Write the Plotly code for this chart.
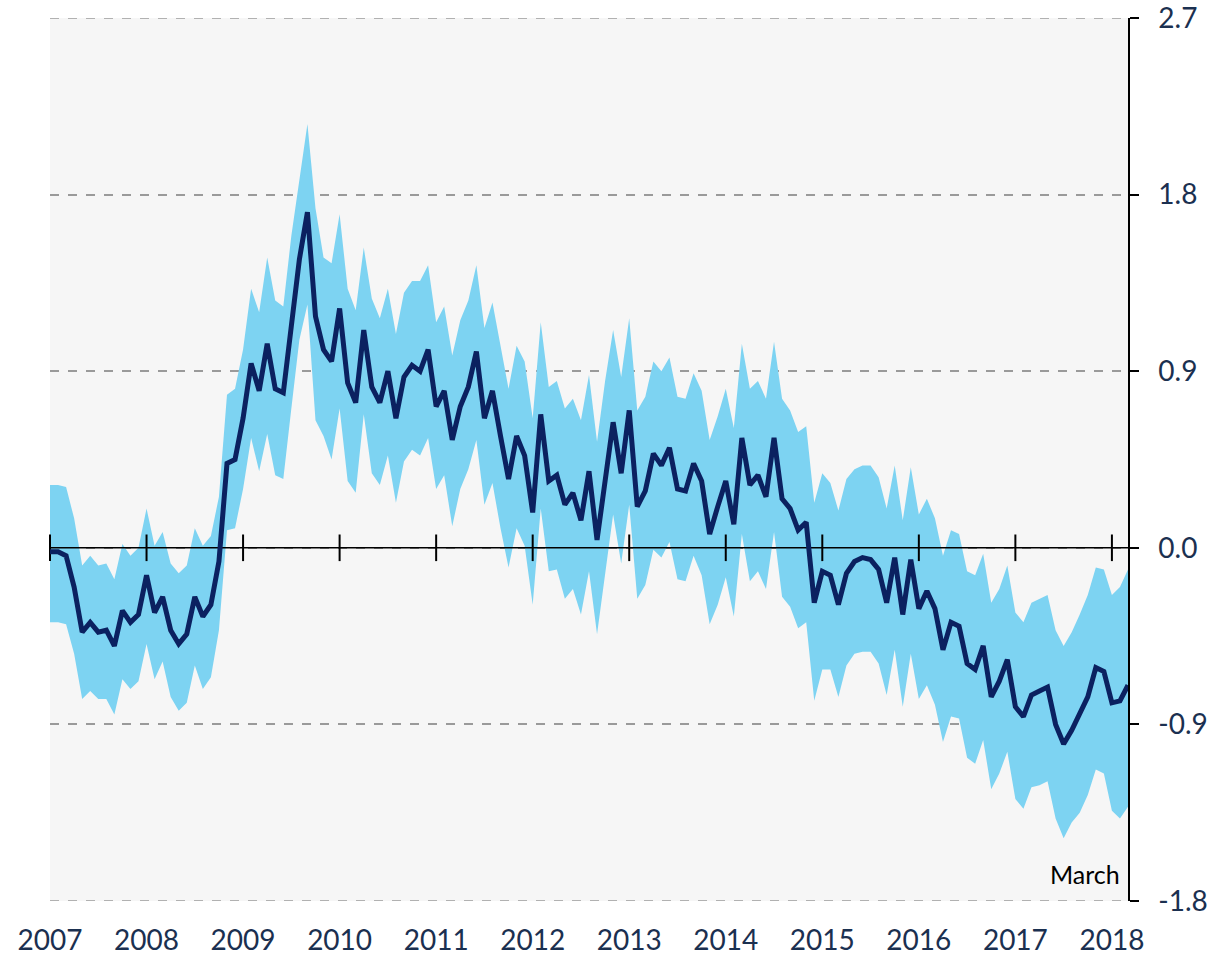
import plotly.graph_objects as go
import pandas as pd

# Monthly observations, Jan 2007 .. Mar 2018
months = pd.date_range("2007-01-01", "2018-03-01", freq="MS")

central = [
    -0.02, -0.02, -0.04, -0.20, -0.43, -0.38, -0.43, -0.42, -0.50, -0.32, -0.38, -0.34,
    -0.14, -0.33, -0.25, -0.42, -0.49, -0.44, -0.25, -0.35, -0.29, -0.07, 0.43, 0.45,
    0.66, 0.94, 0.80, 1.04, 0.81, 0.79, 1.13, 1.47, 1.71, 1.18, 1.01, 0.95,
    1.22, 0.84, 0.74, 1.11, 0.82, 0.74, 0.90, 0.66, 0.87, 0.93, 0.90, 1.01,
    0.72, 0.80, 0.55, 0.72, 0.82, 1.00, 0.66, 0.80, 0.57, 0.35, 0.57, 0.47,
    0.18, 0.68, 0.34, 0.37, 0.22, 0.28, 0.14, 0.39, 0.04, 0.33, 0.64, 0.38,
    0.70, 0.21, 0.29, 0.48, 0.42, 0.51, 0.30, 0.29, 0.43, 0.34, 0.07, 0.21,
    0.34, 0.12, 0.56, 0.32, 0.37, 0.26, 0.56, 0.25, 0.20, 0.09, 0.13, -0.28,
    -0.12, -0.14, -0.29, -0.13, -0.07, -0.05, -0.06, -0.11, -0.28, -0.05, -0.34, -0.06,
    -0.31, -0.22, -0.31, -0.52, -0.38, -0.40, -0.59, -0.62, -0.50, -0.76, -0.68, -0.57,
    -0.81, -0.86, -0.75, -0.73, -0.71, -0.90, -1.00, -0.93, -0.85, -0.76, -0.61, -0.63,
    -0.79, -0.78, -0.70,
]

upper = [
    0.32, 0.32, 0.31, 0.15, -0.09, -0.04, -0.09, -0.08, -0.16, 0.02, -0.04, 0.00,
    0.20, 0.01, 0.08, -0.08, -0.13, -0.09, 0.10, 0.01, 0.06, 0.26, 0.78, 0.81,
    1.01, 1.32, 1.20, 1.48, 1.26, 1.23, 1.59, 1.88, 2.16, 1.73, 1.48, 1.45,
    1.70, 1.32, 1.21, 1.53, 1.27, 1.17, 1.32, 1.09, 1.30, 1.36, 1.36, 1.44,
    1.15, 1.23, 0.98, 1.16, 1.26, 1.44, 1.12, 1.25, 1.03, 0.81, 1.03, 0.95,
    0.66, 1.15, 0.82, 0.85, 0.71, 0.76, 0.65, 0.88, 0.54, 0.85, 1.11, 0.87,
    1.17, 0.70, 0.77, 0.95, 0.90, 0.97, 0.77, 0.76, 0.89, 0.80, 0.55, 0.67,
    0.81, 0.61, 1.04, 0.81, 0.85, 0.76, 1.05, 0.76, 0.70, 0.59, 0.62, 0.23,
    0.38, 0.33, 0.19, 0.35, 0.40, 0.42, 0.42, 0.36, 0.20, 0.42, 0.14, 0.41,
    0.17, 0.25, 0.15, -0.04, 0.09, 0.07, -0.12, -0.14, -0.03, -0.28, -0.21, -0.09,
    -0.33, -0.38, -0.28, -0.26, -0.24, -0.42, -0.50, -0.43, -0.34, -0.24, -0.10, -0.11,
    -0.24, -0.20, -0.11,
]

lower = [
    -0.38, -0.38, -0.39, -0.54, -0.77, -0.73, -0.77, -0.77, -0.85, -0.67, -0.72, -0.68,
    -0.49, -0.67, -0.58, -0.76, -0.83, -0.79, -0.60, -0.72, -0.66, -0.42, 0.09, 0.10,
    0.30, 0.56, 0.39, 0.58, 0.37, 0.35, 0.71, 1.06, 1.24, 0.65, 0.57, 0.45,
    0.71, 0.34, 0.28, 0.68, 0.38, 0.32, 0.47, 0.23, 0.44, 0.50, 0.47, 0.56,
    0.30, 0.37, 0.11, 0.30, 0.40, 0.55, 0.22, 0.33, 0.10, -0.10, 0.10, 0.01,
    -0.29, 0.20, -0.12, -0.11, -0.26, -0.21, -0.34, -0.12, -0.44, -0.14, 0.17, -0.08,
    0.22, -0.26, -0.19, -0.01, -0.05, 0.03, -0.16, -0.17, -0.04, -0.14, -0.39, -0.29,
    -0.15, -0.35, 0.07, -0.17, -0.12, -0.21, 0.08, -0.25, -0.30, -0.41, -0.38, -0.78,
    -0.62, -0.62, -0.76, -0.60, -0.54, -0.53, -0.53, -0.59, -0.75, -0.52, -0.81, -0.54,
    -0.77, -0.70, -0.80, -0.99, -0.86, -0.87, -1.07, -1.10, -0.98, -1.23, -1.15, -1.04,
    -1.28, -1.33, -1.22, -1.21, -1.19, -1.38, -1.48, -1.40, -1.35, -1.26, -1.13, -1.15,
    -1.34, -1.38, -1.32,
]

year_ticks = list(range(2007, 2019))
year_labels = [str(y) for y in year_ticks]
y_ticks = [2.7, 1.8, 0.9, 0.0, -0.9, -1.8]
y_labels = ["2.7", "1.8", "0.9", "0.0", "-0.9", "-1.8"]

assert len(central) == len(upper) == len(lower) == len(months)

x = [d.year + (d.month - 1) / 12 for d in months]

NAVY = "#0b2160"
BAND = "#7dd3f2"
TEXT = "#1b3050"
FONT = "Lato"

fig = go.Figure()

fig.add_trace(go.Scatter(x=x, y=upper, mode="lines", line=dict(width=0, color=BAND),
                         hoverinfo="skip", showlegend=False))
fig.add_trace(go.Scatter(x=x, y=lower, mode="lines", line=dict(width=0, color=BAND),
                         fill="tonexty", fillcolor=BAND, hoverinfo="skip", showlegend=False))

# zero line with year tick marks
fig.add_trace(go.Scatter(x=[x[0], x[-1]], y=[0, 0], mode="lines",
                         line=dict(color="black", width=1.5), hoverinfo="skip", showlegend=False))
fig.add_trace(go.Scatter(x=year_ticks, y=[0] * len(year_ticks), mode="markers",
                         marker=dict(symbol="line-ns", size=19, line=dict(color="black", width=2)),
                         hoverinfo="skip", showlegend=False, cliponaxis=False))

fig.add_trace(go.Scatter(x=x, y=central, mode="lines", line=dict(color=NAVY, width=5),
                         showlegend=False))

# dashed grid lines at the edges of the value range
for yv in (y_ticks[0], y_ticks[-1]):
    fig.add_shape(type="line", xref="x domain", x0=0, x1=1, yref="y", y0=yv, y1=yv,
                  line=dict(color="#9a9a9a", width=1.5, dash="dash"), layer="below")

fig.add_annotation(text="March", xref="x domain", x=1, xanchor="right", xshift=-6,
                   yref="y", y=-1.8, yanchor="bottom", yshift=10, showarrow=False,
                   font=dict(family=FONT, size=25, color="black"))

fig.update_layout(
    width=1230, height=957,
    margin=dict(l=50, r=102, t=18, b=56),
    paper_bgcolor="white",
    plot_bgcolor="#f6f6f6",
    font=dict(family=FONT, size=28, color=TEXT),
    showlegend=False,
    xaxis=dict(range=[x[0], x[-1]], tickvals=year_ticks, ticktext=year_labels,
               showgrid=False, zeroline=False, showline=False, ticks="",
               automargin=False, ticklabeloverflow="allow",
               ticklabelstandoff=20, tickfont=dict(family=FONT, size=28, color=TEXT)),
    yaxis=dict(range=[-1.8, 2.7], side="right", tickvals=y_ticks, ticktext=y_labels,
               showgrid=True, gridcolor="#9a9a9a", griddash="dash", gridwidth=1.5,
               zeroline=False, showline=True, linecolor="black", linewidth=1.5,
               automargin=False, ticklabeloverflow="allow",
               ticks="outside", ticklen=9, tickwidth=1.5, tickcolor="black",
               ticklabelstandoff=14, tickfont=dict(family=FONT, size=28, color=TEXT)),
)

# remove the default page margin so the figure sits at the window's top-left corner
fig.write_html(
    "out.html",
    config={"displayModeBar": False},
    post_script="document.body.style.margin='0';document.body.style.overflow='hidden';",
)
